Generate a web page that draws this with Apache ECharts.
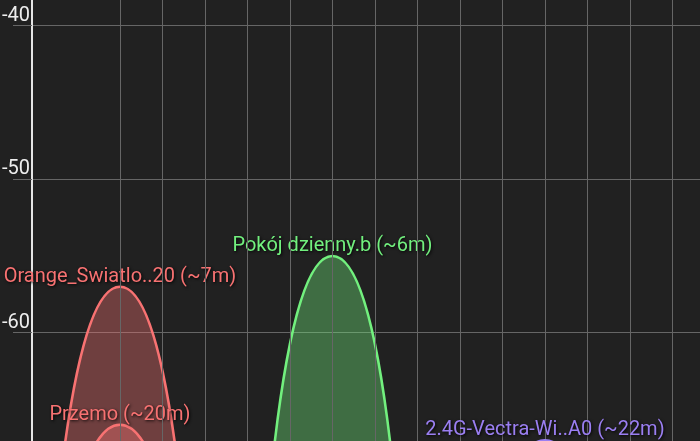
<!DOCTYPE html>
<html>
<head>
<meta charset="utf-8">
<script src="https://cdn.jsdelivr.net/npm/echarts@6/dist/echarts.min.js"></script>
<style>
html,body{margin:0;padding:0;background:#212121;}
#chart{width:700px;height:441px;}
</style>
</head>
<body>
<div id="chart"></div>
<script>
// Networks: name label, channel, signal (dBm)
var networkNames = ['Orange_Swiatlo..20 (~7m)', 'Przemo (~20m)', 'Pokój dzienny.b (~6m)', '2.4G-Vectra-Wi..A0 (~22m)'];
var networkChannels = [1, 1, 6, 11];
var networkSignals = [-57, -66, -55, -67];
var networkColors = ['#f87272', '#f87272', '#72f07e', '#9b7ff2'];
var baseSignal = -100;   // curve foot level
var halfWidth = 2;        // channel half width
var gridChannels = [1,2,3,4,5,6,7,8,9,10,11,12,13,14];
var yTicks = [-70, -60, -50, -40, -30];

function hexToRgba(hex, a){
  var r = parseInt(hex.substr(1,2),16), g = parseInt(hex.substr(3,2),16), b = parseInt(hex.substr(5,2),16);
  return 'rgba('+r+','+g+','+b+','+a+')';
}

var gridLineColor = '#666666';
var series = [{
  type: 'line',
  name: 'grid',
  data: [],
  z: 1,
  silent: true,
  markLine: {
    silent: true,
    symbol: ['none','none'],
    label: {show: false},
    lineStyle: {color: gridLineColor, width: 1, type: 'solid'},
    data: gridChannels.map(function(c){ return {xAxis: c}; })
  }
}];

networkNames.forEach(function(name, i){
  var c = networkChannels[i], s = networkSignals[i], col = networkColors[i];
  series.push({
    type: 'line',
    name: name,
    z: 2 + i,
    smooth: 0.92,
    symbol: 'circle',
    symbolSize: 0,
    showSymbol: true,
    showAllSymbol: true,
    clip: true,
    lineStyle: {color: col, width: 2.5},
    itemStyle: {color: col},
    areaStyle: {color: hexToRgba(col, 0.52), origin: 'start'},
    data: [
      [c - halfWidth, baseSignal],
      {value: [c, s], label: {
        show: true, position: 'top', distance: 0,
        formatter: name, color: col,
        fontFamily: 'Roboto', fontSize: 20,
        textShadowColor: 'rgba(0,0,0,0.9)', textShadowBlur: 3, textShadowOffsetX: 1, textShadowOffsetY: 1
      }},
      [c + halfWidth, baseSignal]
    ]
  });
});

var chart = echarts.init(document.getElementById('chart'), null, {renderer: 'canvas'});
chart.setOption({
  backgroundColor: '#212121',
  animation: false,
  grid: {left: 32, right: 0, top: -127.8, bottom: -45.2, containLabel: false, outerBoundsMode: 'none'},
  xAxis: {
    type: 'value', min: -1.07, max: 14.65,
    axisLine: {show: false}, axisTick: {show: false}, axisLabel: {show: false}, splitLine: {show: false}
  },
  yAxis: {
    type: 'value', min: yTicks[0], max: yTicks[yTicks.length-1], interval: 10,
    axisLine: {show: true, onZero: false, lineStyle: {color: '#e6e6e6', width: 2}},
    axisTick: {show: true, length: 19, lineStyle: {color: gridLineColor, width: 1}},
    axisLabel: {show: true, color: '#eeeeee', fontFamily: 'Roboto', fontSize: 20, margin: 2, verticalAlign: 'bottom', align: 'right'},
    splitLine: {show: true, lineStyle: {color: gridLineColor, width: 1}}
  },
  series: series
});
</script>
</body>
</html>
